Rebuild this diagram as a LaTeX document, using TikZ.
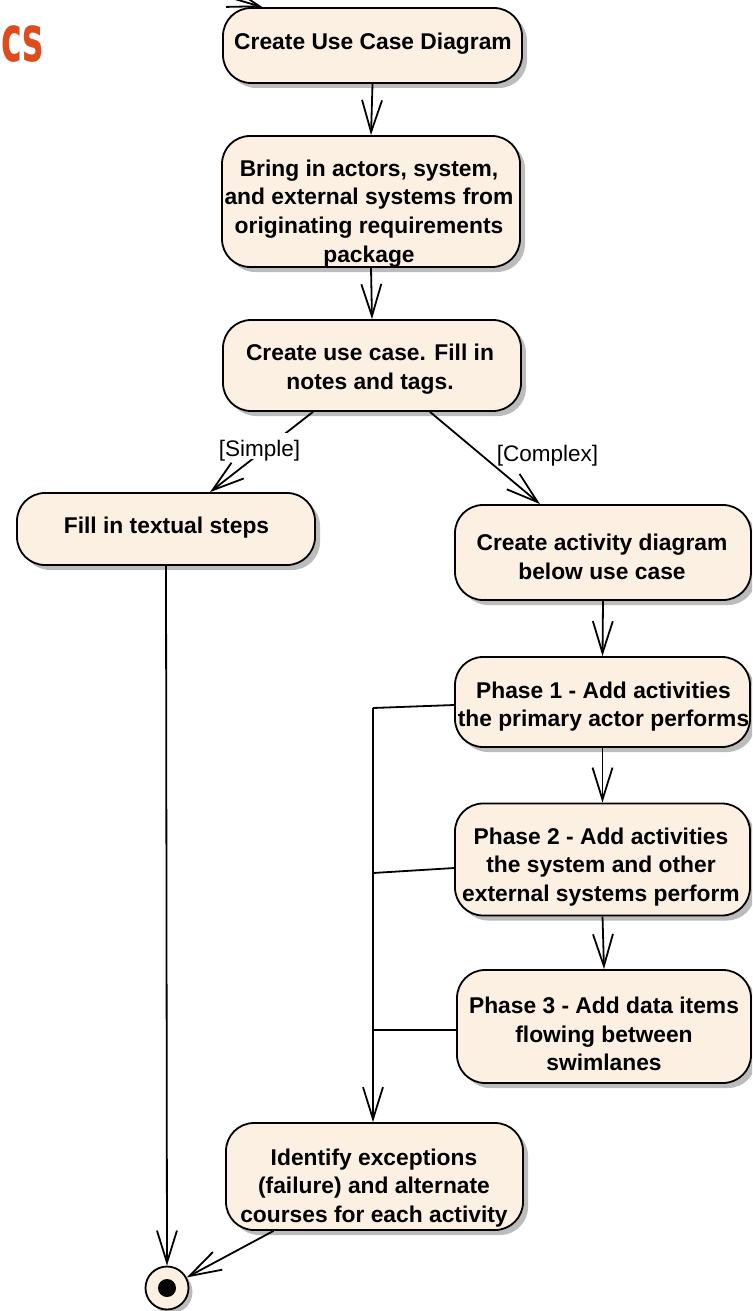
\documentclass[tikz,border=0pt]{standalone}
\usepackage{fontspec}
\setmainfont{Liberation Sans}
\newfontfamily\titlefont{DejaVu Sans}
\usetikzlibrary{arrows.meta,shadows}
\definecolor{actfill}{RGB}{251,240,226}
\definecolor{shadowgray}{RGB}{188,188,188}
\definecolor{titleorange}{RGB}{222,76,30}

\begin{document}
\begin{tikzpicture}[x=1pt,y=-1pt,
  act/.style={draw=black, line width=1.8pt, fill=actfill, rounded corners=28pt, inner sep=0pt,
    drop shadow={shadow xshift=5pt, shadow yshift=-5pt, fill=shadowgray, opacity=1}},
  lbl/.style={font=\bfseries\fontsize{22.8}{28.8}\selectfont, align=center, inner sep=0pt},
  guard/.style={font=\fontsize{22.5}{27}\selectfont, fill=white, inner xsep=1pt, inner ysep=0pt,
    text height=23pt, text depth=3pt, anchor=base},
  flow/.style={line width=1.8pt, -{Straight Barb[length=32pt,width=20pt]}},
  joinline/.style={line width=1.8pt},
]
\useasboundingbox (0,0) rectangle (752,1311);
\clip (0,0) rectangle (752,1311);

% slide title fragment
\node[font=\titlefont\bfseries\fontsize{64}{64}\selectfont, text=titleorange,
  anchor=base east, inner sep=0pt] (title) at (44,62) {\scalebox{0.55}[1]{cs}};

% activity boxes
\node[act, minimum width=299pt, minimum height=75pt]  (n1) at (372.5,45.5) {};
\node[act, minimum width=298pt, minimum height=131pt] (n2) at (371,201.5) {};
\node[act, minimum width=298pt, minimum height=91pt]  (n3) at (372,365.5) {};
\node[act, minimum width=298pt, minimum height=72pt]  (n4) at (166,529) {};
\node[act, minimum width=296pt, minimum height=95pt]  (n5) at (603,552.5) {};
\node[act, minimum width=295pt, minimum height=90pt]  (n6) at (602.5,702) {};
\node[act, minimum width=295pt, minimum height=112pt] (n7) at (602.5,859.5) {};
\node[act, minimum width=294pt, minimum height=113pt] (n8) at (604,1026.5) {};
\node[act, minimum width=297pt, minimum height=107pt] (n9) at (374.5,1176.5) {};

% final node
\node[draw=black, line width=1.8pt, fill=actfill, circle, minimum size=43pt, inner sep=0pt,
  drop shadow={shadow xshift=4pt, shadow yshift=-4pt, fill=shadowgray, opacity=1}] (f) at (167,1288) {};
\fill[black] (f.center) circle (9pt);

% activity texts
\node[lbl] (n1t) at (373,44) {Create Use Case Diagram};
\node[lbl] (n2t) at (369,213.5) {Bring in actors, system,\\and external systems from\\originating requirements\\package};
\node[lbl] (n3t) at (370,369) {Create use case. Fill in\\notes and tags.};
\node[lbl] (n4t) at (166.5,528) {Fill in textual steps};
\node[lbl] (n5t) at (602,556.5) {Create activity diagram\\below use case};
\node[lbl] (n6t) at (603.5,706.5) {Phase 1 - Add activities\\the primary actor performs};
\node[lbl] (n7t) at (601,867) {Phase 2 - Add activities\\the system and other\\external systems perform};
\node[lbl] (n8t) at (604,1034) {Phase 3 - Add data items\\flowing between\\swimlanes};
\node[lbl] (n9t) at (374,1188) {Identify exceptions\\(failure) and alternate\\courses for each activity};

% control flows
\coordinate (in0) at (166,-21);
\draw[flow] (in0) -- ([xshift=-110pt]n1.north);
\draw[flow] (n1.south) -- (n2.north);
\draw[flow] (n2.south) -- (n3.north);
\draw[flow] ([xshift=-59pt]n3.south) -- ([xshift=44pt]n4.north);
\draw[flow] ([xshift=58pt]n3.south) -- ([xshift=-63pt]n5.north);
\draw[flow] (n5.south) -- (n6.north);
\draw[flow] (n6.south) -- (n7.north);
\draw[flow] (n7.south) -- (n8.north);
\draw[flow] (n4.south) -- (f.north);

% merging the phases into the exception step
\coordinate (j1) at (373,708);
\coordinate (j2) at (373,873);
\coordinate (j3) at (373,1030);
\draw[joinline] ([yshift=-3pt]n6.west) -- (j1);
\draw[joinline] ([yshift=-8.5pt]n7.west) -- (j2);
\draw[joinline] ([yshift=-3.5pt]n8.west) -- (j3);
\draw[flow] (j1) -- (j1 |- n9.north);
\draw[flow] ([xshift=-101pt]n9.south) -- (f);

% guards
\node[guard] (gs) at (259.5,456) {[Simple]};
\node[guard] (gc) at (547.5,461.5) {[Complex]};
\end{tikzpicture}
\end{document}
